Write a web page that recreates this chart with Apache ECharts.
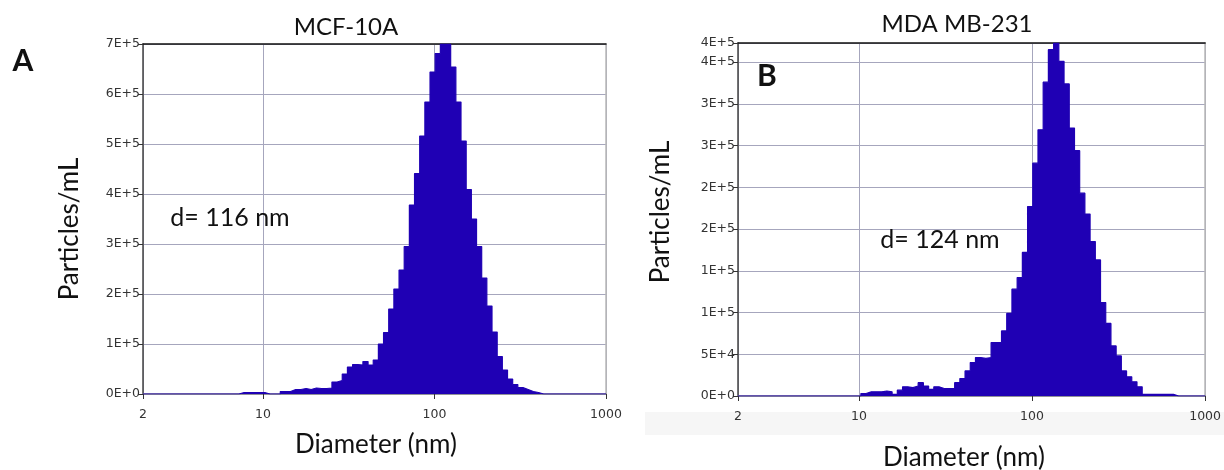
<!DOCTYPE html>
<html>
<head>
<meta charset="utf-8">
<script src="https://cdn.jsdelivr.net/npm/echarts@6/dist/echarts.min.js"></script>
<style>
  html, body { margin: 0; padding: 0; background: #fff; }
  #chart { width: 1224px; height: 470px; }
</style>
</head>
<body>
<div id="chart"></div>
<script>
// left edges of the size bins (nm), last entry closes the final bin
const binEdges = [2, 7.25, 7.77, 8.33, 8.93, 9.57, 10.26, 10.99, 11.78, 12.63, 13.53, 14.5, 15.54, 16.66,
  17.86, 19.14, 20.51, 21.98, 23.56, 25.26, 27.07, 29.01, 31.1, 33.33, 35.72, 38.28, 41.02, 43.97, 47.12,
  50.5, 54.13, 58.01, 62.18, 66.64, 71.42, 76.55, 82.04, 87.93, 94.24, 101, 108.25, 116.0, 124.3, 133.3,
  142.8, 153.1, 164.1, 175.9, 188.5, 202.0, 216.5, 232.1, 248.7, 266.6, 285.7, 306.2, 328.1, 351.7, 376.9,
  404.0, 433.0, 464.0, 497.3, 533.0, 571.3, 612.3, 656.2, 703.3, 1000]

// MCF-10A, particles/mL per bin
const countsA = [0, 3000, 3000, 3000, 3000, 3000, 0, 0, 0, 5000, 5000, 9000, 9000, 11000, 9000, 12000,
  11000, 11000, 12000, 24000, 27000, 40000, 54000, 59000, 58000, 65000, 58000, 68000, 100000, 123000,
  170000, 210000, 248000, 295000, 378000, 441000, 516000, 584000, 644000, 681000, 700000, 700000, 654000,
  584000, 506000, 409000, 350000, 295000, 232000, 176000, 124000, 75000, 48000, 30000, 19000, 13000, 9000,
  5000, 3000, 0, 0, 0, 0, 0, 0, 0, 0, 0]

// MDA MB-231, particles/mL per bin
const countsB = [0, 0, 0, 0, 0, 0, 3000, 5000, 5000, 5000, 6000, 5000, 2000, 7000, 11000, 10000, 12000,
  16000, 12000, 8000, 11000, 9000, 9000, 9000, 16000, 21000, 30000, 40000, 46000, 45000, 46000, 64000,
  64000, 78000, 99000, 128000, 142000, 172000, 227000, 279000, 319000, 376000, 415000, 423000, 401000,
  374000, 321000, 294000, 243000, 218000, 185000, 163000, 112000, 87000, 60000, 48000, 30000, 23000,
  17000, 11000, 2000, 2000, 2000, 2000, 2000, 2000, 0, 0]

const yTicksA = [0, 100000, 200000, 300000, 400000, 500000, 600000, 700000]
const yLabelsA = ['0E+0', '1E+5', '2E+5', '3E+5', '4E+5', '5E+5', '6E+5', '7E+5']
const yTicksB = [0, 50000, 100000, 150000, 200000, 250000, 300000, 350000, 400000, 423000]
const yLabelsB = ['0E+0', '5E+4', '1E+5', '1E+5', '2E+5', '2E+5', '3E+5', '3E+5', '4E+5', '4E+5']

const fill = '#1f00b4'
const gridColor = '#a6a6bd'
const labelFont = { fontFamily: 'DejaVu Sans', fontSize: 12.5, color: '#333' }
const bigFont = 'Lato, "Open Sans", sans-serif'

function stepData(counts) {
  return binEdges.map((e, i) => [e, i < counts.length ? counts[i] : counts[counts.length - 1]])
}

function xAxisFor(gridIndex) {
  return {
    type: 'log', logBase: 10, gridIndex, min: 2, max: 1000, offset: 2,
    axisLine: { show: true, lineStyle: { color: '#8a8a8a', width: 1.5 } },
    axisTick: { show: true, length: 5, lineStyle: { color: '#333' } },
    axisLabel: { ...labelFont, margin: 12, formatter: (v) => String(Math.round(v)) },
    splitLine: { show: true, lineStyle: { color: gridColor, width: 1 } },
    minorTick: { show: false }, minorSplitLine: { show: false }
  }
}

function yAxisFor(gridIndex, max, interval, ticks, labels) {
  return {
    type: 'value', gridIndex, min: 0, max, interval,
    axisLine: { show: true, lineStyle: { color: '#444', width: 1.5 } },
    axisTick: { show: true, length: 5, lineStyle: { color: '#333' } },
    axisLabel: {
      ...labelFont, margin: 3,
      formatter: (v) => {
        const i = ticks.indexOf(v)
        return i >= 0 ? labels[i] : ''
      }
    },
    splitLine: { show: true, lineStyle: { color: gridColor, width: 1 } }
  }
}

// top border + right border of each plot frame
function frameX(gridIndex) {
  return {
    type: 'value', gridIndex, position: 'top', min: 0, max: 1,
    axisLine: { show: true, onZero: false, lineStyle: { color: '#111', width: 1.5 } },
    axisTick: { show: false }, axisLabel: { show: false }, splitLine: { show: false }
  }
}
function frameY(gridIndex) {
  return {
    type: 'value', gridIndex, position: 'right', min: 0, max: 1,
    axisLine: { show: true, onZero: false, lineStyle: { color: '#b8b8b8', width: 1.5 } },
    axisTick: { show: false }, axisLabel: { show: false }, splitLine: { show: false }
  }
}

function histSeries(xi, yi, counts) {
  return {
    type: 'line', xAxisIndex: xi, yAxisIndex: yi, step: 'end',
    data: stepData(counts), symbol: 'none', silent: true,
    lineStyle: { color: fill, width: 1.2 },
    areaStyle: { color: fill, opacity: 1 },
    z: 3
  }
}

const chart = echarts.init(document.getElementById('chart'), null, { renderer: 'canvas' })

const option = {
  animation: false,
  backgroundColor: '#fff',
  grid: [
    { left: 143, top: 44, width: 463, height: 350 },
    { left: 738, top: 43, width: 470, height: 353 }
  ],
  xAxis: [xAxisFor(0), xAxisFor(1), frameX(0), frameX(1)],
  yAxis: [
    yAxisFor(0, 700000, 100000, yTicksA, yLabelsA),
    yAxisFor(1, 423000, 50000, yTicksB, yLabelsB),
    frameY(0), frameY(1)
  ],
  series: [
    histSeries(0, 0, countsA),
    histSeries(1, 1, countsB)
  ],
  graphic: [
    { type: 'rect', z: -10, shape: { x: 645, y: 412, width: 579, height: 23 }, style: { fill: '#f6f6f6' } },
    { type: 'text', x: 346, y: 27, style: { text: 'MCF-10A', font: '24px ' + bigFont, fill: '#111', textAlign: 'center', textVerticalAlign: 'middle', align: 'center', verticalAlign: 'middle' } },
    { type: 'text', x: 957, y: 24, style: { text: 'MDA MB-231', font: '24px ' + bigFont, fill: '#111', textAlign: 'center', textVerticalAlign: 'middle', align: 'center', verticalAlign: 'middle' } },
    { type: 'text', x: 23, y: 61, style: { text: 'A', font: 'bold 30px ' + bigFont, fill: '#111', textAlign: 'center', textVerticalAlign: 'middle', align: 'center', verticalAlign: 'middle' } },
    { type: 'text', x: 767, y: 76, z: 10, style: { text: 'B', font: 'bold 30px ' + bigFont, fill: '#111', textAlign: 'center', textVerticalAlign: 'middle', align: 'center', verticalAlign: 'middle' } },
    { type: 'text', x: 230, y: 218, z: 10, style: { text: 'd= 116 nm', font: '25px ' + bigFont, fill: '#111', textAlign: 'center', textVerticalAlign: 'middle', align: 'center', verticalAlign: 'middle' } },
    { type: 'text', x: 940, y: 240, z: 10, style: { text: 'd= 124 nm', font: '25px ' + bigFont, fill: '#111', textAlign: 'center', textVerticalAlign: 'middle', align: 'center', verticalAlign: 'middle' } },
    { type: 'text', x: 70, y: 229, rotation: Math.PI / 2, style: { text: 'Particles/mL', font: '26px ' + bigFont, fill: '#111', textAlign: 'center', textVerticalAlign: 'middle', align: 'center', verticalAlign: 'middle' } },
    { type: 'text', x: 661, y: 212, rotation: Math.PI / 2, style: { text: 'Particles/mL', font: '26px ' + bigFont, fill: '#111', textAlign: 'center', textVerticalAlign: 'middle', align: 'center', verticalAlign: 'middle' } },
    { type: 'text', x: 376, y: 445, style: { text: 'Diameter (nm)', font: '26px ' + bigFont, fill: '#111', textAlign: 'center', textVerticalAlign: 'middle', align: 'center', verticalAlign: 'middle' } },
    { type: 'text', x: 964, y: 458, style: { text: 'Diameter (nm)', font: '26px ' + bigFont, fill: '#111', textAlign: 'center', textVerticalAlign: 'middle', align: 'center', verticalAlign: 'middle' } }
  ]
}

chart.setOption(option)
</script>
</body>
</html>
